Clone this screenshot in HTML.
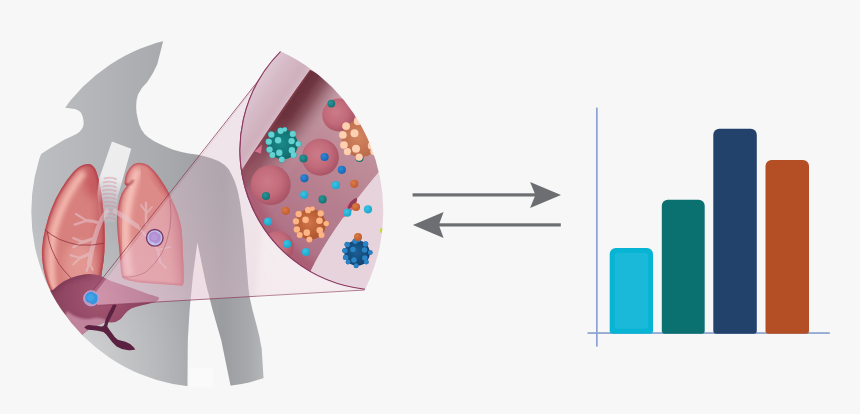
<!DOCTYPE html>
<html>
<head>
<meta charset="utf-8">
<title>Diagram</title>
<style>
html,body{margin:0;padding:0;background:#f7f7f7;font-family:"Liberation Sans",sans-serif;}
body{width:860px;height:414px;overflow:hidden;position:relative;}
svg{position:absolute;left:0;top:0;display:block;}
</style>
</head>
<body>
<svg width="860" height="414" viewBox="0 0 860 414">
<defs>
  <clipPath id="big"><circle cx="207.3" cy="211.3" r="176"/></clipPath>
  <clipPath id="lens"><circle cx="380" cy="150" r="140"/></clipPath>
  <clipPath id="cLungL"><path d="M89,164 Q94,165 96.4,171.7 Q99,179 100.5,188 Q102.5,200 103.5,211.4 Q105,228 104.7,243 Q104.5,258 102.5,268 L100,285 L60,300 L52,293 Q46.5,284 43.3,268.3 Q41.5,258 42,249 Q42.6,238 45.7,227 Q48,217 51.7,208 Q56,197 61.4,188.6 Q67,179 73.5,171.7 Q81,163.5 89,164 Z"/></clipPath>
  <clipPath id="cLungR"><path d="M139,162.7 Q144.5,162.8 148.6,165.6 Q154,170 158.3,176 Q162.5,182 166,187.8 Q169.5,193.5 171.8,199.4 Q175,206 177.6,213 Q180,221 181.5,228.4 Q182.6,240 182.8,252 Q184,268 183.7,282 Q183.5,286.5 180,285.5 L146,283 Q133,282 124.5,279 Q121,277 120.8,270 L119.3,250 Q117.3,232 116.9,222 Q117,214 117.7,209 Q119,200 121.6,193.6 Q124,189 127,186 L124.5,184 Q124.5,180 125.5,176 Q127,171.5 129.3,168.5 Q133,163 139,162.7 Z"/></clipPath>
  <clipPath id="cLiver"><path d="M30,300 Q42,292 53,290 Q58,285 64,281.3 Q70,277.8 77,276 Q84,274.2 90,274 Q95,274.3 99.8,275.4 Q106,278.5 111.7,281.3 L131.3,287.8 L148.7,294.3 Q156,296 158.7,297.6 Q160,299.5 155.2,302 Q149,304 142.2,305.2 Q136,306.5 131.3,308.5 Q127,311 124.8,314 Q122.5,317 120.4,319.3 Q116.5,322.4 111.7,322.6 Q108,322 105.2,322 Q96,326 87.8,330.2 L82.4,334.6 L60,345 L30,330 Z"/></clipPath>
  <clipPath id="cLumen"><path d="M309.8,70.1 Q279.5,112 243.7,167.2 L215,200 L225,275 L300,305 L310.6,271.2 Q329.6,231.1 378,173 L400,160 L400,40 Z"/></clipPath>
  <filter id="soft" filterUnits="userSpaceOnUse" x="0" y="0" width="430" height="414"><feGaussianBlur stdDeviation="0.45"/></filter>
  <filter id="b05" x="-20%" y="-20%" width="140%" height="140%"><feGaussianBlur stdDeviation="0.5"/></filter>
  <filter id="b1" x="-20%" y="-20%" width="140%" height="140%"><feGaussianBlur stdDeviation="1.2"/></filter>
  <filter id="b2" x="-20%" y="-20%" width="140%" height="140%"><feGaussianBlur stdDeviation="2.5"/></filter>
  <filter id="b4" x="-30%" y="-30%" width="160%" height="160%"><feGaussianBlur stdDeviation="4.5"/></filter>
  <linearGradient id="gBody" gradientUnits="userSpaceOnUse" x1="30" y1="0" x2="270" y2="0">
    <stop offset="0" stop-color="#bebfc2"/>
    <stop offset="0.3" stop-color="#b3b4b7"/>
    <stop offset="0.55" stop-color="#a9aaad"/>
    <stop offset="0.66" stop-color="#a3a4a7"/>
    <stop offset="0.8" stop-color="#9b9c9f"/>
    <stop offset="0.92" stop-color="#a9aaad"/>
    <stop offset="1" stop-color="#bcbdbf"/>
  </linearGradient>
  <radialGradient id="gGlow" gradientUnits="userSpaceOnUse" cx="70" cy="370" r="150">
    <stop offset="0" stop-color="#ffffff" stop-opacity="0.42"/>
    <stop offset="0.5" stop-color="#ffffff" stop-opacity="0.2"/>
    <stop offset="1" stop-color="#ffffff" stop-opacity="0"/>
  </radialGradient>
  <radialGradient id="gLiver" gradientUnits="userSpaceOnUse" cx="100" cy="296" r="60">
    <stop offset="0" stop-color="#a65873"/>
    <stop offset="0.6" stop-color="#914763"/>
    <stop offset="1" stop-color="#7f3a57"/>
  </radialGradient>
  <radialGradient id="gRBC" cx="0.42" cy="0.42" r="0.62">
    <stop offset="0" stop-color="#cd7a88"/>
    <stop offset="0.55" stop-color="#c26b7b"/>
    <stop offset="0.9" stop-color="#ad586a"/>
    <stop offset="1" stop-color="#a65264"/>
  </radialGradient>
  <linearGradient id="gWall" gradientUnits="userSpaceOnUse" x1="276" y1="113" x2="315.7" y2="140.0">
    <stop offset="0" stop-color="#8d505b"/>
    <stop offset="0.13" stop-color="#692f3a"/>
    <stop offset="0.3" stop-color="#6f3742"/>
    <stop offset="0.5" stop-color="#8a5560" stop-opacity="0.95"/>
    <stop offset="0.78" stop-color="#b28893" stop-opacity="0.55"/>
    <stop offset="1" stop-color="#c9a2ab" stop-opacity="0"/>
  </linearGradient>
  <linearGradient id="gWallP" gradientUnits="userSpaceOnUse" x1="276" y1="113" x2="302.5" y2="131">
    <stop offset="0" stop-color="#a95f71"/>
    <stop offset="0.5" stop-color="#b26e7e" stop-opacity="0.8"/>
    <stop offset="1" stop-color="#c9a2ab" stop-opacity="0"/>
  </linearGradient>
  <linearGradient id="gBandM" gradientUnits="userSpaceOnUse" x1="312" y1="68" x2="243" y2="168">
    <stop offset="0" stop-color="#fff"/>
    <stop offset="0.45" stop-color="#fff"/>
    <stop offset="0.85" stop-color="#fff" stop-opacity="0.5"/>
    <stop offset="1" stop-color="#fff" stop-opacity="0.4"/>
  </linearGradient>
  <mask id="mBand" maskUnits="userSpaceOnUse" x="220" y="40" width="190" height="220"><rect x="220" y="40" width="190" height="220" fill="url(#gBandM)"/></mask>
  <linearGradient id="gLumen" gradientUnits="userSpaceOnUse" x1="365" y1="95" x2="265" y2="240">
    <stop offset="0" stop-color="#caa6af"/>
    <stop offset="0.3" stop-color="#bf8e9a"/>
    <stop offset="0.6" stop-color="#b67f8f"/>
    <stop offset="1" stop-color="#ae7085"/>
  </linearGradient>
  <linearGradient id="gOuter" gradientUnits="userSpaceOnUse" x1="245" y1="95" x2="288" y2="124">
    <stop offset="0" stop-color="#dfcad3"/>
    <stop offset="0.3" stop-color="#d6bbc6"/>
    <stop offset="0.62" stop-color="#cfb0bc"/>
    <stop offset="0.8" stop-color="#d7bdc7"/>
    <stop offset="1" stop-color="#d9c0ca"/>
  </linearGradient>
  <linearGradient id="gTrach" gradientUnits="userSpaceOnUse" x1="121" y1="145" x2="106" y2="205">
    <stop offset="0" stop-color="#eeeeef" stop-opacity="1"/>
    <stop offset="0.55" stop-color="#eeeeef" stop-opacity="0.95"/>
    <stop offset="0.8" stop-color="#eeeeef" stop-opacity="0.45"/>
    <stop offset="1" stop-color="#eeeeef" stop-opacity="0.1"/>
  </linearGradient>
  <linearGradient id="gCone" gradientUnits="userSpaceOnUse" x1="93" y1="298" x2="300" y2="170">
    <stop offset="0" stop-color="#eebed2" stop-opacity="0.52"/>
    <stop offset="0.3" stop-color="#e8bed0" stop-opacity="0.43"/>
    <stop offset="0.5" stop-color="#deb8c9" stop-opacity="0.32"/>
    <stop offset="0.7" stop-color="#d8b4c4" stop-opacity="0.22"/>
    <stop offset="1" stop-color="#d8b4c4" stop-opacity="0.2"/>
  </linearGradient>
  <radialGradient id="gTeal" cx="0.45" cy="0.45" r="0.6">
    <stop offset="0" stop-color="#1c8989"/><stop offset="1" stop-color="#0f696b"/>
  </radialGradient>
  <radialGradient id="gOr" cx="0.45" cy="0.45" r="0.6">
    <stop offset="0" stop-color="#d38560"/><stop offset="1" stop-color="#b96848"/>
  </radialGradient>
  <radialGradient id="gOr2" cx="0.45" cy="0.45" r="0.6">
    <stop offset="0" stop-color="#d0744a"/><stop offset="1" stop-color="#aa5228"/>
  </radialGradient>
  <radialGradient id="gNavy" cx="0.45" cy="0.45" r="0.6">
    <stop offset="0" stop-color="#1c5f95"/><stop offset="1" stop-color="#12406e"/>
  </radialGradient>
  <radialGradient id="dT" cx="0.38" cy="0.36" r="0.7"><stop offset="0" stop-color="#2a9496"/><stop offset="1" stop-color="#136f72"/></radialGradient>
  <radialGradient id="dB" cx="0.38" cy="0.36" r="0.7"><stop offset="0" stop-color="#2f8ad6"/><stop offset="1" stop-color="#1763b0"/></radialGradient>
  <radialGradient id="dC" cx="0.38" cy="0.36" r="0.7"><stop offset="0" stop-color="#3cc4e2"/><stop offset="1" stop-color="#1aa3cc"/></radialGradient>
  <radialGradient id="dO" cx="0.38" cy="0.36" r="0.7"><stop offset="0" stop-color="#dd7a48"/><stop offset="1" stop-color="#bd5a2c"/></radialGradient>
  <g id="bumps">
    <circle cx="-2.3" cy="-13.6" r="3"/>
    <circle cx="-11.4" cy="-9.8" r="3"/>
    <circle cx="9.8" cy="-10.4" r="3"/>
    <circle cx="-14.0" cy="-2.8" r="3"/>
    <circle cx="-4.8" cy="-4.2" r="3.2"/>
    <circle cx="8.7" cy="-3.4" r="3.2"/>
    <circle cx="15.2" cy="-0.6" r="2.6"/>
    <circle cx="-13.2" cy="5.1" r="3"/>
    <circle cx="-3.6" cy="8.2" r="3.2"/>
    <circle cx="9.0" cy="5.8" r="3.2"/>
    <circle cx="-10.4" cy="10.4" r="2.8"/>
    <circle cx="10.6" cy="10.4" r="2.8"/>
    <circle cx="-1.1" cy="14.7" r="2.8"/>
    <circle cx="1.9" cy="-14.9" r="2.2"/>
  </g>
</defs>
<rect width="860" height="414" fill="#f7f7f7"/>

<!-- ===== left illustration ===== -->
<g clip-path="url(#big)">
<g filter="url(#soft)">
  <path fill="url(#gBody)" d="M20,100 L65,107.8 L74.7,109 Q81,110.3 82.5,116 Q84,121 83.5,125 Q82.3,130.5 76.5,134 L63.8,139.9 L48,149.5 L20,168 L20,400 L187.3,400 L187.8,340 L189.6,310 L193,275 L197.4,242.6 L206,284 L212.6,310 L221.3,340.4 L233.5,400 L270,400 L263.5,377.4 L261.7,349 Q259.5,335 256,323 Q252,309 249.6,297 Q248,286 247.4,275 Q246,259 245,244.8 Q244,226 241.5,214 Q240.5,203 238,192 Q235.4,180.6 228.6,169 Q224,164 219,161.3 Q213,158.5 205.5,156.4 Q198,154.8 188.8,153.6 Q181,152 173.3,149.7 Q166,147 159.8,144 Q153,141 148.2,137.2 Q143.5,133.5 141.4,129.4 Q138.5,124 137.6,117.9 Q136,112 136.2,106 Q136.3,99 138,94.5 Q141,88 147.5,81.8 Q153.5,73 157.2,64.4 L166,30 L20,30 Z"/>
  <path fill="url(#gGlow)" d="M20,100 L65,107.8 L74.7,109 Q81,110.3 82.5,116 Q84,121 83.5,125 Q82.3,130.5 76.5,134 L63.8,139.9 L48,149.5 L20,168 L20,400 L187.3,400 L187.8,340 L189.6,310 L193,275 L197.4,242.6 L206,284 L212.6,310 L221.3,340.4 L233.5,400 L270,400 L263.5,377.4 L261.7,349 Q259.5,335 256,323 Q252,309 249.6,297 Q248,286 247.4,275 Q246,259 245,244.8 Q244,226 241.5,214 Q240.5,203 238,192 Q235.4,180.6 228.6,169 Q224,164 219,161.3 Q213,158.5 205.5,156.4 Q198,154.8 188.8,153.6 Q181,152 173.3,149.7 Q166,147 159.8,144 Q153,141 148.2,137.2 Q143.5,133.5 141.4,129.4 Q138.5,124 137.6,117.9 Q136,112 136.2,106 Q136.3,99 138,94.5 Q141,88 147.5,81.8 Q153.5,73 157.2,64.4 L166,30 L20,30 Z"/>
  <rect x="189" y="368" width="24" height="20" fill="#fbfbfb" opacity="0.7"/>

  <!-- left lung -->
  <g clip-path="url(#cLungL)">
    <rect x="35" y="155" width="80" height="150" fill="#d7807d"/>
    <path d="M97,150 L118,150 L112,300 L97,300 Z" fill="#c45f64" filter="url(#b4)"/>
    <ellipse cx="94" cy="176" rx="11" ry="22" fill="#bd4a52" filter="url(#b4)" opacity="0.62"/>
    <ellipse cx="80" cy="265" rx="16" ry="24" fill="#eba9a2" filter="url(#b4)" opacity="0.55"/>
    <path d="M84,172 Q64,196 54,230 Q49,258 53,292" fill="none" stroke="#f6bcb2" stroke-width="6.5" filter="url(#b2)"/>
    <path d="M89,164 Q94,165 96.4,171.7 Q99,179 100.5,188 Q102.5,200 103.5,211.4 Q105,228 104.7,243 Q104.5,258 102.5,268 L100,285 L60,300 L52,293 Q46.5,284 43.3,268.3 Q41.5,258 42,249 Q42.6,238 45.7,227 Q48,217 51.7,208 Q56,197 61.4,188.6 Q67,179 73.5,171.7 Q81,163.5 89,164 Z" fill="none" stroke="#b3424c" stroke-width="3.6" filter="url(#b1)"/>
  </g>
  <!-- right lung -->
  <g clip-path="url(#cLungR)">
    <rect x="110" y="155" width="80" height="140" fill="#dd8b88"/>
    <path d="M162,150 L196,150 L196,300 L179,300 L173,215 Z" fill="#c5606a" filter="url(#b4)"/>
    <ellipse cx="164" cy="181" rx="16" ry="6" transform="rotate(54 164 181)" fill="#bf505a" filter="url(#b4)" opacity="0.7"/>
    <path d="M138,169 Q128,195 125.500,225 Q125,255 130,276" fill="none" stroke="#f6c0b8" stroke-width="8" filter="url(#b2)"/>
    <path d="M139,162.7 Q144.5,162.8 148.6,165.6 Q154,170 158.3,176 Q162.5,182 166,187.8 Q169.5,193.5 171.8,199.4 Q175,206 177.6,213 Q180,221 181.5,228.4 Q182.6,240 182.8,252 Q184,268 183.7,282 Q183.5,286.5 180,285.5 L146,283 Q133,282 124.5,279 Q121,277 120.8,270 L119.3,250 Q117.3,232 116.9,222 Q117,214 117.7,209 Q119,200 121.6,193.6 Q124,189 127,186 L124.5,184 Q124.5,180 125.5,176 Q127,171.5 129.3,168.5 Q133,163 139,162.7 Z" fill="none" stroke="#b94c56" stroke-width="2.8" filter="url(#b1)"/>
    <path d="M124.500,184.500 Q129,186.500 133.500,180" fill="none" stroke="#a63a46" stroke-width="1.8" filter="url(#b1)"/>
  </g>
  <!-- trachea -->
  <path fill="url(#gTrach)" d="M111.900,141.600 L131.200,148.700 L118,196 L115,222 L100,222 L97.400,193.800 L99.300,178.300 Z"/>
  <g fill="none" stroke="#d88ea6" stroke-width="1.8" stroke-linecap="round" opacity="0.48">
    <path d="M104.500,178.500 q6,-2.200 11.500,0.600"/><path d="M103.800,182.500 q6,-2.200 12,0.600"/><path d="M103.200,186.500 q6,-2.200 12.600,0.600"/>
    <path d="M102.800,190.500 q6.500,-2.200 13,0.600"/><path d="M102.600,194.500 q6.500,-2.200 13,0.600"/><path d="M102.600,198.500 q6.500,-2.200 13,0.600"/>
    <path d="M102.800,202.500 q6.500,-2.200 13,0.600"/><path d="M103.200,206.500 q6,-2.200 12.500,0.600"/><path d="M103.800,210.500 q6,-2.200 12,0.600"/>
    <path d="M104.500,214.500 q5.500,-2.200 11,0.600"/><path d="M105,218.500 q5,-2 10,0.600"/>
  </g>

  <!-- bronchi (translucent) -->
  <g fill="none" stroke="#e6c8cf" stroke-linecap="round" stroke-linejoin="round" opacity="0.55" filter="url(#b05)">
    <path stroke-width="4.600" d="M107,211 Q100.500,220 97.200,230 Q94.500,238 93.200,244.600 Q91,254 89.300,263.200"/>
    <path stroke-width="3.200" d="M100,223.300 Q93,220.500 86.600,220.600"/><path stroke-width="2.200" d="M86.600,220.600 L76,214"/><path stroke-width="2.200" d="M86.600,220.600 L74.600,224.600"/>
    <path stroke-width="3.200" d="M94.600,238 Q88,241 82.600,242"/><path stroke-width="2.200" d="M82.600,242 L73.300,238"/><path stroke-width="2.200" d="M82.600,242 L73.300,247.200"/>
    <path stroke-width="3" d="M91.400,252.600 Q85,256 80,257.900"/><path stroke-width="2" d="M80,257.900 L70.600,255.200"/><path stroke-width="2" d="M80,257.900 L73.300,264.500"/>
    <path stroke-width="2.200" d="M89.300,263.200 L86.600,271"/><path stroke-width="1.800" d="M89.300,263.200 L93,270"/>
    <path stroke-width="4.600" d="M115,211 Q126,218 137,226"/>
    <path stroke-width="2.400" d="M146,224 L146,203"/><path stroke-width="1.800" d="M146,212 L141,205"/><path stroke-width="1.800" d="M146,214 L152,207"/>
    <path stroke-width="2.400" d="M137,226 Q150,240 158,250 L160,262"/><path stroke-width="1.800" d="M158,250 L170,247"/><path stroke-width="1.800" d="M160,262 L166,268"/>
  </g>
  <!-- fissures -->
  <g fill="none" stroke="#8f2f3d" stroke-width="0.9" opacity="0.85">
    <path d="M44.8,229.7 Q51,235 59.3,239.3 Q68,243 78.6,245 Q92,246 104,243.2"/>
    <path d="M47.3,231.6 Q48.5,241 51.6,249 Q55,257 59.3,264.4 Q64,271 71,278"/>
    <path d="M170,200 Q172,214 170,228 Q167,243 162,253 Q155,265 146,272 Q135,278 122,277"/>
  </g>

  <!-- liver -->
  <path fill="url(#gLiver)" d="M30,300 Q42,292 53,290 Q58,285 64,281.3 Q70,277.8 77,276 Q84,274.2 90,274 Q95,274.3 99.8,275.4 Q106,278.5 111.7,281.3 L131.3,287.8 L148.7,294.3 Q156,296 158.7,297.6 Q160,299.5 155.2,302 Q149,304 142.2,305.2 Q136,306.5 131.3,308.5 Q127,311 124.8,314 Q122.5,317 120.4,319.3 Q116.5,322.4 111.7,322.6 Q108,322 105.2,322 Q96,326 87.8,330.2 L82.4,334.6 L60,345 L30,330 Z"/>
  <g clip-path="url(#cLiver)">
    <path d="M67,311 Q79,321 92,318.500 Q100,316.500 107,320.500 L106,324 L82.400,336 L60,330 Z" fill="#c58aa2" filter="url(#b1)" opacity="0.9"/>
    <path d="M30,300 Q42,292 53,290 Q58,285 64,281.3 Q70,277.8 77,276 Q84,274.2 90,274" fill="none" stroke="#6f2d4b" stroke-width="4" filter="url(#b2)" opacity="0.7"/>
  </g>
  <path fill="#5a2340" d="M113.5,303.8 Q115.5,303.1 116.6,305.2 Q114,312 110,319 Q107.8,323 107.3,326.4 Q109.4,329.8 112,333.3 Q114.5,337.6 117.8,339.8 Q121.5,340.7 125.5,341.8 Q130,343.5 132.9,346.4 Q134.5,348 135.3,349.5 Q131.2,350.8 127,350 Q120.8,349.2 116.6,346.5 Q112,342.5 109,338 Q106.2,333.500 103.300,332 Q97.800,330.300 91.900,330 Q86.800,330.400 84.200,327.400 Q85.700,324.800 89,324.900 Q96,325.500 101.800,326.500 Q103.700,326.500 104.200,324.700 Q105.200,319.800 108.200,313.800 Q111,308.800 113.500,303.800 Z"/>

  <!-- cone -->
  <path fill="#ecc8d8" fill-opacity="0.13" d="M93.5,289.8 L281.4,51.3 L380,150 L364.8,290 L97.5,305.4 Z"/>
  <path fill="url(#gCone)" d="M95,293 L255.5,85.5 L380,150 L364.8,290 L97.5,305.4 Z"/>
  <path fill="none" stroke="#8a3a58" stroke-width="0.9" stroke-opacity="0.85" d="M93.5,289.8 L281.4,51.3"/>
  <path fill="none" stroke="#9a5274" stroke-width="0.7" stroke-opacity="0.28" d="M95,293 L255.5,85.5"/>
  <path fill="none" stroke="#8a3a58" stroke-width="0.9" stroke-opacity="0.8" d="M97.5,305.4 L364.8,290"/>
  <path fill="#ffffff" fill-opacity="0.32" filter="url(#b2)" d="M365.1,289.2 A140,140 0 0 1 262,225 L256,296.500 Z"/>
  <!-- liver target circle -->
  <circle cx="91.2" cy="298.3" r="7.6" fill="#c596c0" stroke="#b7a3d6" stroke-width="1"/>
  <path d="M85.2,297.5 q0.3,-4.600 4.800,-5.600 q3.200,-0.500 4.600,1.700 q3.300,0.800 3,4.600 q0.200,4 -3.200,5.700 q-2.600,1 -4.200,-1 q-4.800,0 -5,-5.400 Z" fill="#3697e0"/>
  <circle cx="90.6" cy="297.6" r="3.4" fill="#49a9ea" opacity="0.7"/>
  <!-- lung target circle -->
  <circle cx="154.8" cy="237.8" r="8.300" fill="#bdc0ea" stroke="#7c3866" stroke-width="1.4"/>
  <path d="M148.800,237 q0.400,-4.400 4.600,-5.300 q3,-0.500 4.400,1.500 q3.200,0.800 3,4.400 q0.200,3.800 -3.100,5.500 q-2.500,1 -4,-0.900 q-4.700,0 -4.900,-5.200 Z" fill="#b08fd2"/>
  <circle cx="154.300" cy="237.200" r="3.200" fill="#bc9cda" opacity="0.8"/>

  <!-- ===== inset lens ===== -->
  <g clip-path="url(#lens)">
    <rect x="230" y="30" width="170" height="280" fill="url(#gOuter)"/>
    <!-- lumen -->
    <path fill="url(#gLumen)" d="M309.8,70.1 Q279.5,112 243.7,167.2 L215,200 L225,275 L300,305 L310.6,271.2 Q329.6,231.1 378,173 L400,160 L400,40 Z"/>
    <g clip-path="url(#cLumen)">
      <circle cx="380" cy="150" r="144" fill="none" stroke="#a85068" stroke-width="30" stroke-opacity="0.6" filter="url(#b4)"/>
      <path fill="url(#gWallP)" d="M309.8,70.1 Q279.5,112 243.7,167.2 L236,180 L310,235 L395,100 Z"/>
      <path fill="url(#gWall)" mask="url(#mBand)" d="M309.8,70.1 Q279.5,112 243.7,167.2 L236,180 L320,245 L400,110 Z"/>
      <path fill="none" stroke="#84404f" stroke-width="1.6" stroke-opacity="0.8" filter="url(#b1)" d="M309.8,70.1 Q279.5,112 243.7,167.2"/>
    </g>
    <!-- lower-right tissue -->
    <path fill="#e6d3dc" d="M378,173 L400,150 L400,300 L330,300 L310.6,271.2 Q329.6,231.1 378,173 Z"/>
    <!-- pore in upper wall -->
    <path fill="#d66f8d" filter="url(#b05)" d="M254.5,151.5 L262,144.5 L261,153.5 Z"/>
    <!-- pore lower wall -->
    <ellipse cx="349" cy="208" rx="3.8" ry="12" transform="rotate(40 349 208)" fill="#d06e8e"/>
    <ellipse cx="352.3" cy="203.5" rx="2.2" ry="7" transform="rotate(40 352.3 203.5)" fill="#8c3c54"/>
    <!-- RBCs -->
    <circle cx="338.6" cy="115" r="16.4" fill="url(#gRBC)"/>
    <circle cx="320.4" cy="157.2" r="18.5" fill="url(#gRBC)"/>
    <circle cx="270.7" cy="185" r="20" fill="url(#gRBC)"/>
    <circle cx="277.6" cy="246.9" r="16" fill="url(#gRBC)"/>
    <!-- small dots -->
    <g>
      <circle cx="331.3" cy="103.6" r="3.9" fill="url(#dT)"/>
      <circle cx="303.5" cy="158.5" r="4.1" fill="url(#dT)"/>
      <circle cx="324.6" cy="157" r="4.1" fill="url(#dB)"/>
      <circle cx="359.5" cy="158" r="4.1" fill="url(#dT)"/>
      <circle cx="341.8" cy="169.8" r="4.1" fill="url(#dB)"/>
      <circle cx="304.4" cy="178.3" r="4.1" fill="url(#dB)"/>
      <circle cx="335.8" cy="185.2" r="4.1" fill="url(#dC)"/>
      <circle cx="354.3" cy="183.8" r="4.1" fill="url(#dO)"/>
      <circle cx="266" cy="196" r="4.1" fill="url(#dT)"/>
      <circle cx="304.2" cy="194.8" r="4.1" fill="url(#dC)"/>
      <circle cx="322.6" cy="199.4" r="4.1" fill="url(#dT)"/>
      <circle cx="285.8" cy="210.8" r="4.1" fill="url(#dO)"/>
      <circle cx="268" cy="221.6" r="4.1" fill="url(#dC)"/>
      <circle cx="356" cy="207" r="4.1" fill="url(#dO)"/>
      <circle cx="347.3" cy="212.7" r="4.1" fill="url(#dC)"/>
      <circle cx="368" cy="209.3" r="4.1" fill="url(#dC)"/>
      <circle cx="287.2" cy="244" r="4.1" fill="url(#dC)"/>
      <circle cx="306" cy="252" r="4.1" fill="url(#dC)"/>
      <circle cx="382.5" cy="230.6" r="2.6" fill="#c6d936"/>
    </g>
    <!-- nanoparticles -->
    <g transform="translate(282.9,144.5)"><use href="#bumps" fill="#27aebf" transform="scale(1.03)"/><circle r="14.9" fill="url(#gTeal)"/><use href="#bumps" fill="#63d2d0"/></g>
    <g transform="translate(360.5,138.5) scale(1.25)"><use href="#bumps" fill="#f0a880" transform="scale(1.02)"/><circle r="15" fill="url(#gOr)"/><use href="#bumps" fill="#fdd0b2"/></g>
    <g transform="translate(310.5,224.2) scale(1.03)"><use href="#bumps" fill="#e88d5c" transform="scale(1.02)"/><circle r="14.8" fill="url(#gOr2)"/><use href="#bumps" fill="#fdb486"/></g>
    <g transform="translate(357.1,253) scale(0.86)"><use href="#bumps" fill="#2573b2" transform="scale(1.02)"/><circle r="14.8" fill="url(#gNavy)"/><use href="#bumps" fill="#2c83c4"/></g>
    <circle cx="358" cy="237" r="4" fill="url(#dO)"/>
  </g>
  <!-- lens left arc outline -->
  <path fill="#86325a" d="M280.7,51.3 A140,140 0 0 0 365.1,289.2 A139.5,139.5 0 0 1 280.7,51.3 Z"/>
  <path fill="none" stroke="#8c3a60" stroke-width="1.1" d="M280.7,51.3 A140,140 0 0 0 365.1,289.2"/>
</g>
</g>

<!-- ===== arrows ===== -->
<g fill="#6d6e72">
  <rect x="412.600" y="193.300" width="124" height="3.200"/>
  <path d="M561,194.900 L530.100,181.900 L535.400,194.900 L530.100,207.900 Z"/>
  <rect x="437.500" y="223.300" width="123.300" height="3.200"/>
  <path d="M412.900,224.900 L443.600,211.900 L438.800,224.900 L443.600,237.900 Z"/>
</g>

<!-- ===== bar chart ===== -->
<g>
  <rect x="596.050" y="107.600" width="1.600" height="239" fill="#869fcf"/>
  <rect x="587.500" y="332.200" width="242.300" height="1.700" fill="#8aa2cf"/>
  <path fill="#08b4d4" d="M609.7,254 a6,6 0 0 1 6,-6 h31.299999999999997 a6,6 0 0 1 6,6 v76.7 a3,3 0 0 1 -3,3 h-37.3 a3,3 0 0 1 -3,-3 Z"/>
  <path fill="#1ab9da" d="M614.7,256 a3,3 0 0 1 3,-3 h27.299999999999997 a3,3 0 0 1 3,3 v69.7 a3,3 0 0 1 -3,3 h-27.299999999999997 a3,3 0 0 1 -3,-3 Z"/>
  <path fill="#0b7070" d="M661.8,205.8 a6,6 0 0 1 6,-6 h30.9 a6,6 0 0 1 6,6 v124.9 a3,3 0 0 1 -3,3 h-36.9 a3,3 0 0 1 -3,-3 Z"/>
  <path fill="#22416b" d="M713.3,134.8 a6,6 0 0 1 6,-6 h31.5 a6,6 0 0 1 6,6 v195.9 a3,3 0 0 1 -3,3 h-37.5 a3,3 0 0 1 -3,-3 Z"/>
  <path fill="#b44f25" d="M765.5,165.9 a6,6 0 0 1 6,-6 h31.5 a6,6 0 0 1 6,6 v164.8 a3,3 0 0 1 -3,3 h-37.5 a3,3 0 0 1 -3,-3 Z"/>
</g>
</svg>
</body>
</html>
